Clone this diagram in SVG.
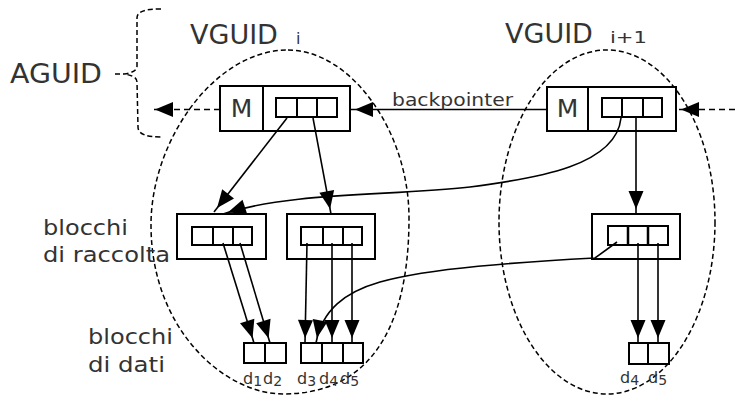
<svg xmlns="http://www.w3.org/2000/svg" width="735" height="401" viewBox="0 0 735 401">
  <style>
    .dash { fill: none; stroke: #000; stroke-width: 1.5; stroke-dasharray: 5 3; }
    .box { fill: #fff; stroke: #000; stroke-width: 2; }
    .cell { fill: #fff; stroke: #000; stroke-width: 2; }
    .link { fill: none; stroke: #000; stroke-width: 1.6; marker-end: url(#head); }
    .dlink { fill: none; stroke: #000; stroke-width: 1.6; stroke-dasharray: 6 4; marker-end: url(#head); }
    .lbl { font-family: "DejaVu Sans", "Liberation Sans", sans-serif; fill: #333; }
    .big { font-size: 27px; }
    .mid { font-size: 22px; }
    .sub { font-size: 16px; }
    .d { font-size: 16px; }
  </style>
  <defs>
    <marker id="head" markerUnits="userSpaceOnUse" markerWidth="26" markerHeight="18" refX="23" refY="7.5" orient="auto" overflow="visible">
      <path d="M0,0 L18,7.5 L0,15 Z" fill="#000"/>
    </marker>
  </defs>

  <rect width="735" height="401" fill="#fff"/>

  <!-- version groups -->
  <g id="vguid-i">
    <path class="dash" d="M288,50 C350,50 409,130 409,218 C409,335 365,394 283,394 C225,394 151,330 151,225 C151,140 215,50 288,50 Z"/>
    <text class="lbl big" x="190" y="44">VGUID</text>
    <text class="lbl sub" x="296" y="44">i</text>
  </g>
  <g id="vguid-i1">
    <ellipse class="dash" cx="607" cy="222" rx="108" ry="172"/>
    <text class="lbl big" x="505" y="43">VGUID</text>
    <text class="lbl sub" x="610" y="43" textLength="37" lengthAdjust="spacingAndGlyphs">i+1</text>
  </g>

  <!-- AGUID brace -->
  <g id="aguid">
    <text class="lbl big" x="10" y="83" textLength="92" lengthAdjust="spacingAndGlyphs">AGUID</text>
    <path class="dash" d="M115,74 L124,74"/>
    <path class="dash" d="M161,9 C146,9 137,11 137,18 L137,66 C137,71 131,73 124,74 C131,75 137,77 137,82 L138,127 C138,134 146,137 161,137"/>
  </g>

  <!-- side labels -->
  <g id="labels">
    <text class="lbl mid" x="43" y="235" textLength="85" lengthAdjust="spacingAndGlyphs">blocchi</text>
    <text class="lbl mid" x="43" y="262" textLength="127" lengthAdjust="spacingAndGlyphs">di raccolta</text>
    <text class="lbl mid" x="88" y="344" textLength="85" lengthAdjust="spacingAndGlyphs">blocchi</text>
    <text class="lbl mid" x="88" y="372" textLength="77" lengthAdjust="spacingAndGlyphs">di dati</text>
  </g>

  <!-- metadata blocks -->
  <g id="meta-i">
    <rect class="box" x="220" y="86" width="130" height="45"/>
    <line x1="263" y1="86" x2="263" y2="131" stroke="#000" stroke-width="2"/>
    <text class="lbl" x="241.5" y="117" font-size="25" text-anchor="middle">M</text>
    <rect class="cell" x="276" y="98" width="61" height="19"/>
    <path d="M297,98 V117 M317,98 V117" stroke="#000" stroke-width="2"/>
  </g>
  <g id="meta-i1">
    <rect class="box" x="547" y="87" width="129" height="44"/>
    <line x1="588" y1="87" x2="588" y2="131" stroke="#000" stroke-width="2"/>
    <text class="lbl" x="567.5" y="117" font-size="25" text-anchor="middle">M</text>
    <rect class="cell" x="602" y="98" width="60" height="19"/>
    <path d="M622,98 V117 M643,98 V117" stroke="#000" stroke-width="2"/>
  </g>

  <!-- collection blocks -->
  <g id="coll-a">
    <rect class="box" x="177" y="214" width="89" height="45"/>
    <rect class="cell" x="192" y="227" width="60" height="18"/>
    <path d="M213,227 V245 M233,227 V245" stroke="#000" stroke-width="2"/>
  </g>
  <g id="coll-b">
    <rect class="box" x="287" y="214" width="88" height="45"/>
    <rect class="cell" x="301" y="227" width="61" height="18"/>
    <path d="M323,227 V245 M343,227 V245" stroke="#000" stroke-width="2"/>
  </g>
  <g id="coll-c">
    <rect class="box" x="592" y="214" width="88" height="45"/>
    <rect class="cell" x="608" y="226" width="60" height="19"/>
    <path d="M628,226 V245 M648,226 V245" stroke="#000" stroke-width="2.5"/>
  </g>

  <!-- data blocks -->
  <g id="data-12">
    <rect class="cell" x="244" y="343" width="42" height="20"/>
    <line x1="265" y1="343" x2="265" y2="363" stroke="#000" stroke-width="2"/>
    <text class="lbl d" x="243" y="384">d<tspan font-size="14" dy="2">1</tspan></text>
    <text class="lbl d" x="263" y="384">d<tspan font-size="14" dy="2">2</tspan></text>
  </g>
  <g id="data-345">
    <rect class="cell" x="301" y="343" width="62" height="20"/>
    <path d="M322,343 V363 M343,343 V363" stroke="#000" stroke-width="2"/>
    <text class="lbl d" x="297" y="384">d<tspan font-size="14" dy="2">3</tspan></text>
    <text class="lbl d" x="319" y="384">d<tspan font-size="14" dy="2">4</tspan></text>
    <text class="lbl d" x="340" y="384">d<tspan font-size="14" dy="2">5</tspan></text>
  </g>
  <g id="data-45">
    <rect class="cell" x="629" y="343" width="40" height="21"/>
    <line x1="648" y1="343" x2="648" y2="364" stroke="#000" stroke-width="2"/>
    <text class="lbl d" x="620" y="383">d<tspan font-size="14" dy="2">4</tspan></text>
    <text class="lbl d" x="648" y="383">d<tspan font-size="14" dy="2">5</tspan></text>
  </g>

  <!-- connectors -->
  <g id="connectors">
    <path class="dlink" d="M220,109.5 L150,109.5"/>
    <path class="dlink" d="M735,109.5 L676,109.5"/>
    <path class="link" d="M547,109.5 L350,109.5"/>
    <text class="lbl" x="392" y="106" font-size="18" textLength="121" lengthAdjust="spacingAndGlyphs" fill="#444">backpointer</text>

    <path class="link" d="M287,118 L214,212"/>
    <path class="link" d="M313,118 L331,214"/>
    <path class="link" d="M621,118 C616,165 540,178 470,187 C390,196 290,192 223,214"/>
    <path class="link" d="M636,118 L636,214"/>

    <path class="link" d="M223,243 L254,343"/>
    <path class="link" d="M240,243 L270,343"/>
    <path class="link" d="M307,243 L305,343"/>
    <path class="link" d="M332,243 L332,343"/>
    <path class="link" d="M352,243 L352,343"/>
    <path class="link" d="M617,242 L595,258 C520,262 430,268 380,282 C345,292 322,310 316,343"/>

    <path class="link" d="M638,243 L638,343"/>
    <path class="link" d="M658,243 L658,343"/>
  </g>
</svg>
